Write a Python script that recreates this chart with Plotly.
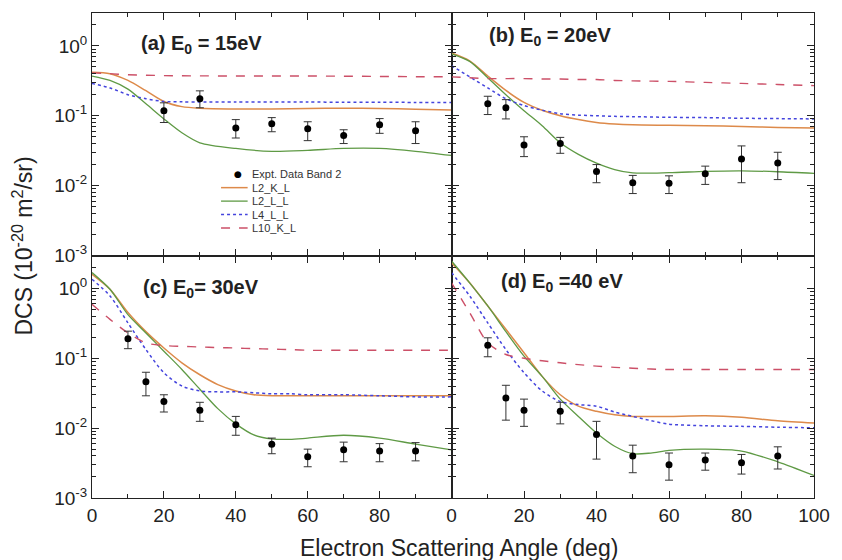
import plotly.graph_objects as go

# ---------------- data ----------------
angles_exp = [10, 15, 20, 30, 40, 50, 60, 70, 80, 90]

# Panel (a) 15 eV (no data at 10, 15)
a_exp_x = [20, 30, 40, 50, 60, 70, 80, 90]
a_exp_y = [0.118, 0.175, 0.067, 0.077, 0.065, 0.052, 0.074, 0.061]
a_err_hi = [0.153, 0.227, 0.088, 0.094, 0.082, 0.063, 0.091, 0.082]
a_err_lo = [0.080, 0.130, 0.048, 0.059, 0.044, 0.040, 0.056, 0.040]
a_x = [0, 5, 10, 15, 20, 25, 30, 40, 50, 60, 70, 80, 90, 100]
a_L2KL = [0.42, 0.40, 0.32, 0.228, 0.16, 0.135, 0.128, 0.125, 0.125, 0.127, 0.128, 0.127, 0.124, 0.121]
a_L2LL = [0.37, 0.32, 0.24, 0.148, 0.09, 0.057, 0.041, 0.034, 0.031, 0.032, 0.034, 0.034, 0.031, 0.027]
a_L4LL = [0.29, 0.25, 0.20, 0.175, 0.16, 0.158, 0.157, 0.157, 0.157, 0.157, 0.156, 0.156, 0.155, 0.155]
a_L10KL = [0.41, 0.40, 0.385, 0.38, 0.375, 0.373, 0.372, 0.37, 0.37, 0.37, 0.368, 0.365, 0.362, 0.36]

# Panel (b) 20 eV
b_exp_x = angles_exp
b_exp_y = [0.148, 0.13, 0.038, 0.040, 0.0159, 0.011, 0.0108, 0.0148, 0.024, 0.021]
b_err_hi = [0.19, 0.17, 0.050, 0.049, 0.020, 0.014, 0.0138, 0.019, 0.037, 0.030]
b_err_lo = [0.104, 0.09, 0.026, 0.029, 0.011, 0.0077, 0.0077, 0.0104, 0.011, 0.0122]
b_x = [0, 5, 10, 15, 20, 25, 30, 35, 40, 45, 50, 60, 70, 80, 90, 100]
b_L2KL = [0.79, 0.61, 0.37, 0.23, 0.155, 0.12, 0.10, 0.088, 0.080, 0.076, 0.074, 0.073, 0.072, 0.070, 0.068, 0.067]
b_L2LL = [0.77, 0.60, 0.35, 0.20, 0.118, 0.072, 0.041, 0.028, 0.021, 0.017, 0.0152, 0.0153, 0.016, 0.0163, 0.0158, 0.0150]
b_L4LL = [0.52, 0.36, 0.25, 0.175, 0.14, 0.12, 0.107, 0.102, 0.100, 0.098, 0.097, 0.095, 0.094, 0.092, 0.091, 0.090]
b_L10KL = [0.36, 0.35, 0.34, 0.34, 0.34, 0.335, 0.335, 0.33, 0.33, 0.32, 0.315, 0.31, 0.30, 0.29, 0.28, 0.27]

# Panel (c) 30 eV
c_exp_x = angles_exp
c_exp_y = [0.19, 0.046, 0.024, 0.018, 0.0112, 0.0059, 0.0039, 0.0049, 0.0047, 0.0047]
c_err_hi = [0.244, 0.063, 0.030, 0.0234, 0.0147, 0.0072, 0.0050, 0.0063, 0.0060, 0.0062]
c_err_lo = [0.137, 0.029, 0.017, 0.0125, 0.0079, 0.0043, 0.0028, 0.0033, 0.0033, 0.0034]
c_x = [0, 5, 10, 15, 20, 25, 30, 35, 40, 45, 50, 55, 60, 70, 80, 90, 100]
c_L2KL = [1.59, 0.97, 0.45, 0.24, 0.14, 0.086, 0.058, 0.042, 0.034, 0.030, 0.029, 0.029, 0.029, 0.029, 0.029, 0.029, 0.029]
c_L2LL = [1.68, 0.97, 0.42, 0.23, 0.126, 0.069, 0.036, 0.019, 0.0115, 0.008, 0.0070, 0.0069, 0.0072, 0.0079, 0.0072, 0.0059, 0.0049]
c_L4LL = [1.35, 0.78, 0.32, 0.133, 0.062, 0.040, 0.034, 0.033, 0.033, 0.032, 0.031, 0.031, 0.030, 0.030, 0.029, 0.028, 0.028]
c_L10KL = [0.59, 0.36, 0.23, 0.166, 0.152, 0.148, 0.145, 0.142, 0.140, 0.137, 0.135, 0.133, 0.130, 0.130, 0.130, 0.130, 0.130]

# Panel (d) 40 eV
d_exp_x = angles_exp
d_exp_y = [0.154, 0.027, 0.018, 0.0174, 0.0081, 0.0040, 0.0030, 0.0035, 0.0032, 0.0040]
d_err_hi = [0.196, 0.041, 0.026, 0.0234, 0.0125, 0.0057, 0.0044, 0.0044, 0.0042, 0.0054]
d_err_lo = [0.105, 0.013, 0.0106, 0.0115, 0.0036, 0.0023, 0.0018, 0.0025, 0.0022, 0.0026]
d_x = [0, 5, 10, 15, 20, 25, 30, 35, 40, 45, 50, 55, 60, 70, 80, 90, 100]
d_L2KL = [2.33, 1.2, 0.56, 0.26, 0.12, 0.055, 0.030, 0.0206, 0.0174, 0.0155, 0.0147, 0.0147, 0.0147, 0.0150, 0.0143, 0.0127, 0.0118]
d_L2LL = [2.46, 1.2, 0.56, 0.24, 0.107, 0.055, 0.026, 0.0147, 0.0085, 0.0055, 0.0043, 0.0044, 0.0048, 0.0050, 0.0047, 0.0033, 0.0021]
d_L4LL = [1.68, 0.78, 0.32, 0.133, 0.062, 0.034, 0.024, 0.0217, 0.0206, 0.017, 0.0147, 0.0128, 0.0114, 0.0108, 0.0106, 0.0103, 0.0101]
d_L10KL = [1.2, 0.45, 0.166, 0.113, 0.10, 0.092, 0.086, 0.081, 0.077, 0.074, 0.072, 0.070, 0.069, 0.069, 0.069, 0.069, 0.069]

panel_labels = ["(a) E<sub>0</sub> = 15eV", "(b) E<sub>0</sub> = 20eV",
                "(c) E<sub>0</sub>= 30eV", "(d) E<sub>0</sub> =40 eV"]
expt_name = "Expt. Data Band 2"
series_names = ["L2_K_L", "L2_L_L", "L4_L_L", "L10_K_L"]
y_tickvals = [0.001, 0.01, 0.1, 1]
y_ticktext = ["10<sup>-3</sup>", "10<sup>-2</sup>", "10<sup>-1</sup>", "10<sup>0</sup>"]

# ---------------- styles ----------------
line_styles = [
    dict(color="#dd8a4a", width=1.5, dash="solid"),
    dict(color="#5f9a45", width=1.3, dash="solid"),
    dict(color="#4444dd", width=1.5, dash="dot"),
    dict(color="#cc5068", width=1.4, dash="dash"),
]

panels = [
    (a_exp_x, a_exp_y, a_err_hi, a_err_lo, a_x, [a_L2KL, a_L2LL, a_L4LL, a_L10KL]),
    (b_exp_x, b_exp_y, b_err_hi, b_err_lo, b_x, [b_L2KL, b_L2LL, b_L4LL, b_L10KL]),
    (c_exp_x, c_exp_y, c_err_hi, c_err_lo, c_x, [c_L2KL, c_L2LL, c_L4LL, c_L10KL]),
    (d_exp_x, d_exp_y, d_err_hi, d_err_lo, d_x, [d_L2KL, d_L2LL, d_L4LL, d_L10KL]),
]

fig = go.Figure()
FONT = "Liberation Sans, Arial, sans-serif"
W, H = 842, 560
ML, MR, MT, MB = 92, 17, 12, 62
PW, PH = W - ML - MR, H - MT - MB
xsplit = 365 / PW

for i, (ex, ey, ehi, elo, cx, curves) in enumerate(panels):
    n = i + 1
    xa = "x" if n == 1 else f"x{n}"
    ya = "y" if n == 1 else f"y{n}"
    for j, cy in enumerate(curves):
        fig.add_trace(go.Scatter(
            x=cx, y=cy, mode="lines", line=dict(**line_styles[j], shape="spline", smoothing=0.8),
            name=series_names[j], showlegend=False, xaxis=xa, yaxis=ya))
    fig.add_trace(go.Scatter(
        x=ex, y=ey, mode="markers", name=expt_name,
        marker=dict(color="black", size=7),
        error_y=dict(type="data", symmetric=False,
                     array=[h - v for h, v in zip(ehi, ey)],
                     arrayminus=[v - l for l, v in zip(elo, ey)],
                     color="#333333", thickness=1, width=4),
        showlegend=False, xaxis=xa, yaxis=ya))

minor_y = [m * 10 ** e for e in range(-3, 1) for m in range(2, 10)]
TICKFONT = dict(family=FONT, size=19, color="#222")

def xaxis_cfg(domain, labels, tickvals, ticktext, anchor):
    return dict(domain=domain, range=[0, 100], showgrid=False, zeroline=False, anchor=anchor,
                showline=True, linecolor="#222", linewidth=1, mirror="ticks",
                ticks="inside", ticklen=7, tickcolor="#222",
                tickvals=tickvals, ticktext=ticktext, showticklabels=labels,
                tickfont=TICKFONT,
                minor=dict(ticks="inside", ticklen=4, tickcolor="#222", dtick=10, tick0=0, showgrid=False))

def yaxis_cfg(domain, labels, anchor):
    return dict(domain=domain, type="log", range=[-3, 0.47], showgrid=False, zeroline=False, anchor=anchor,
                showline=True, linecolor="#222", linewidth=1, mirror="ticks",
                ticks="inside", ticklen=7, tickcolor="#222",
                tickvals=y_tickvals, ticktext=y_ticktext, showticklabels=labels,
                tickfont=TICKFONT,
                minor=dict(ticks="inside", ticklen=4, tickcolor="#222", tickvals=minor_y, showgrid=False))

x_ticks = [0, 20, 40, 60, 80, 100]
left_text = ["0", "20", "40", "60", "80", ""]
right_text = ["0", "20", "40", "60", "80", "100"]

fig.update_layout(
    width=W, height=H,
    margin=dict(l=ML, r=MR, t=MT, b=MB),
    paper_bgcolor="white", plot_bgcolor="white",
    font=dict(family=FONT, color="#222"),
    xaxis=xaxis_cfg([0, xsplit], False, x_ticks, left_text, "y"),
    yaxis=yaxis_cfg([0.5, 1], True, "x"),
    xaxis2=xaxis_cfg([xsplit, 1], False, x_ticks, right_text, "y2"),
    yaxis2=yaxis_cfg([0.5, 1], False, "x2"),
    xaxis3=xaxis_cfg([0, xsplit], True, x_ticks, left_text, "y3"),
    yaxis3=yaxis_cfg([0, 0.5], True, "x3"),
    xaxis4=xaxis_cfg([xsplit, 1], True, x_ticks, right_text, "y4"),
    yaxis4=yaxis_cfg([0, 0.5], False, "x4"),
    showlegend=False,
)

# ---- hand-built legend inside panel (a) ----
def px2paper(px, py):
    return (px - ML) / PW, 1 - (py - MT) / PH

leg_x0, leg_x1, leg_text_x = 223, 250, 252
leg_rows = [173.5, 187, 200.5, 214, 227.5]
LEG_FONT = dict(family=FONT, size=11, color="#333")

mx, my = px2paper(240, leg_rows[0])
fig.add_annotation(text="●", xref="paper", yref="paper", x=mx, y=my, showarrow=False,
                   xanchor="center", yanchor="middle", font=dict(family="DejaVu Sans", size=9, color="black"))
tx, ty = px2paper(leg_text_x, leg_rows[0])
fig.add_annotation(text=expt_name, xref="paper", yref="paper", x=tx, y=ty, showarrow=False,
                   xanchor="left", yanchor="middle", font=LEG_FONT)
for j, name in enumerate(series_names):
    row = leg_rows[j + 1]
    x0, y0 = px2paper(leg_x0, row)
    x1, _ = px2paper(leg_x1, row)
    st = line_styles[j]
    fig.add_shape(type="line", xref="paper", yref="paper", x0=x0, x1=x1, y0=y0, y1=y0,
                  line=dict(color=st["color"], width=st["width"], dash=st["dash"]))
    tx, ty = px2paper(leg_text_x, row)
    fig.add_annotation(text=name, xref="paper", yref="paper", x=tx, y=ty, showarrow=False,
                       xanchor="left", yanchor="middle", font=LEG_FONT)

label_pos = [(0.13, 0.872), (0.098, 0.905), (0.137, 0.864), (0.13, 0.889)]
for i, (txt, (px, py)) in enumerate(zip(panel_labels, label_pos)):
    n = i + 1
    xr = "x domain" if n == 1 else f"x{n} domain"
    yr = "y domain" if n == 1 else f"y{n} domain"
    fig.add_annotation(text=f"<b>{txt}</b>", xref=xr, yref=yr, x=px, y=py,
                       xanchor="left", yanchor="middle", showarrow=False,
                       font=dict(family=FONT, size=20, color="#222"))

tx, ty = px2paper(21, 246)
fig.add_annotation(text="DCS (10<sup>-20</sup> m<sup>2</sup>/sr)", xref="paper", yref="paper",
                   x=tx, y=ty, textangle=-90, showarrow=False, xanchor="center", yanchor="middle",
                   font=dict(family=FONT, size=23, color="#222"))
tx, ty = px2paper(465, 548)
fig.add_annotation(text="Electron Scattering Angle (deg)", xref="paper", yref="paper",
                   x=tx, y=ty, showarrow=False, xanchor="center", yanchor="middle",
                   font=dict(family=FONT, size=23, color="#222"))

fig.write_html("out.html")
